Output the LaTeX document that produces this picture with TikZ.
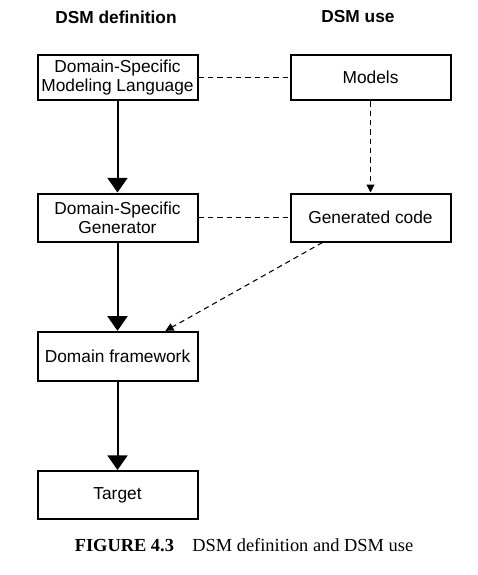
\documentclass[tikz,border=0pt]{standalone}
\usepackage{fontspec}
\setmainfont{Liberation Serif}
\setsansfont{Liberation Sans}
\usetikzlibrary{arrows.meta,positioning,calc}
\tikzset{main base/.style={draw,line width=1.5pt,text centered,font=\sffamily\fontsize{13}{14.5}\selectfont}, }
\tikzset{main node/.style={rectangle,main base,align=center,
    minimum width=120pt, minimum height=36pt, inner sep=1pt}, }
\tikzset{main title/.style={font=\sffamily\bfseries\fontsize{13}{14.5}\selectfont}, }
\tikzset{linea/.style={-{Triangle[width=15pt,length=11pt]},line width=1.5pt,draw}}
\tikzset{linea2/.style={-{Triangle[width=6pt,length=6pt]},dash pattern=on 4pt off 3pt,line width=0.8pt,draw}}
\tikzset{linea3/.style={dash pattern=on 4pt off 3pt,line width=0.8pt,draw}}

\begin{document}
\begin{tikzpicture}[x=0.75pt,y=-0.75pt]
  \useasboundingbox (0,0) rectangle (478,575);
  % titles
  \node[main title] (t1) at (116,17) {DSM definition};
  \node[main title] (t2) at (358,17) {DSM use};
  % left column
  \node[main node, minimum height=34pt] (1) at (117.5,77.5) {Domain-Specific\\Modeling Language};
  \node[main node] (2) at (117.5,217.5) {Domain-Specific\\Generator};
  \node[main node, minimum height=37pt] (3) at (117.5,356.5) {Domain framework};
  \node[main node] (4) at (117.5,495) {Target};
  % right column
  \node[main node, minimum height=34pt] (5) at (370.5,77.5) {Models};
  \node[main node] (6) at (370.5,217.5) {Generated code};
\foreach \x /\y in{1/2,2/3,3/4}
  \path[linea] (\x) edge node {} (\y);
\foreach \x /\y in{1/5,2/6}
  \path[linea3] (\x) edge node {} (\y);
  \path[linea2] (5) edge node {} (6);
  \path[linea2] ($(6.south west)+(33,0)$) -- ($(3.north east)+(-33,0)$);
  % caption
  \node (cap) at (244,545) {\fontsize{13.8}{15}\selectfont\textbf{FIGURE 4.3}\quad DSM definition and DSM use};
\end{tikzpicture}
\end{document}
